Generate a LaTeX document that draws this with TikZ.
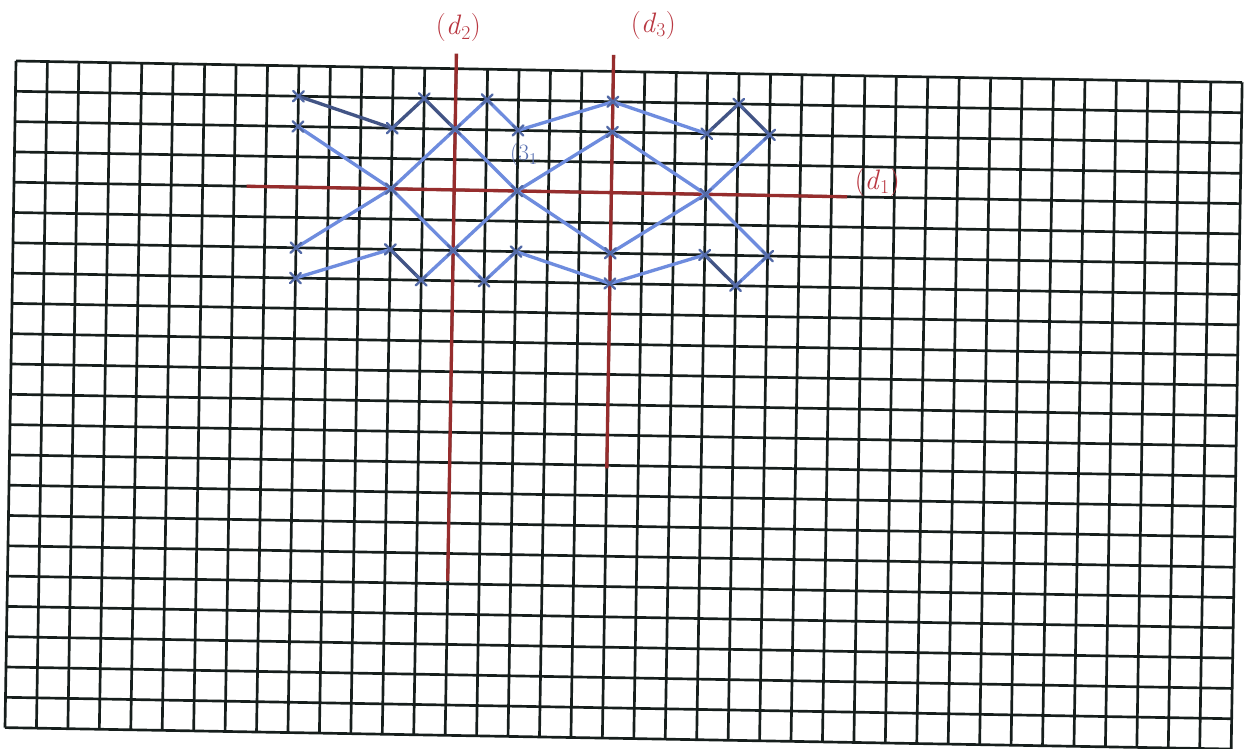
\documentclass[tikz,border=0pt]{standalone}
\usepackage{fontspec}
\definecolor{gridblack}{RGB}{22,30,28}
\definecolor{axisred}{RGB}{150,45,45}
\definecolor{labelred}{RGB}{185,55,65}
\definecolor{penblue}{RGB}{110,140,222}
\begin{document}
\begin{tikzpicture}[x={(9.432mm,-0.165mm)}, y={(-0.15mm,-9.09mm)},
      gridline/.style={line width=0.8mm, draw=gridblack},
      axisline/.style={line width=1mm, draw=axisred},
      axislabel/.style={text=labelred, font=\fontsize{24}{26}\selectfont, inner sep=0pt},
      chain/.style={line width=1mm, draw=penblue, line cap=round},
      chaindark/.style={chain, draw=penblue!60!black},
      ptcross/.style={line width=0.7mm, draw=penblue!75!black, line cap=round}]
    \useasboundingbox (-4.8mm,18.3mm) rectangle (369.6mm,-206.4mm);
    \fill[white] (-4.8mm,18.3mm) rectangle (369.6mm,-206.4mm);

    % squared paper
    \foreach \c in {0,...,39}
      \draw[gridline] (\c,0) -- (\c,22);
    \foreach \r in {0,...,22}
      \draw[gridline] (0,\r) -- (39,\r);

    % the three lines
    \coordinate (d1a) at (7.4,4);   \coordinate (d1b) at (26.5,4);
    \coordinate (d2a) at (14,-0.5); \coordinate (d2b) at (14,16.9);
    \coordinate (d3a) at (19,-0.55);\coordinate (d3b) at (19,13.1);
    \draw[axisline] (d1a) -- (d1b);
    \draw[axisline] (d2a) -- (d2b);
    \draw[axisline] (d3a) -- (d3b);
    \node[axislabel] (ld1) at (27.45,3.5)  {(\textit{d}\textsubscript{1})};
    \node[axislabel] (ld2) at (14.05,-1.35) {(\textit{d}\textsubscript{2})};
    \node[axislabel] (ld3) at (20.25,-1.55) {(\textit{d}\textsubscript{3})};

    % points of the figure
    \foreach \c/\r in {9/1, 9/2, 12/2, 13/1, 14/2, 15/1, 16/2, 12/4, 16/4,
                       9/6, 9/7, 12/6, 13/7, 14/6, 15/7, 16/6,
                       19/1, 19/2, 22/2, 23/1, 24/2, 22/4,
                       19/6, 19/7, 22/6, 23/7, 24/6}
      \coordinate (p\c-\r) at (\c,\r);

    \foreach \a/\b in {p9-2/p12-4, p12-4/p14-2, p14-2/p15-1, p15-1/p16-2,
                       p14-2/p16-4, p12-4/p9-6, p12-4/p14-6, p9-7/p12-6,
                       p13-7/p14-6, p14-6/p16-4, p14-6/p15-7, p15-7/p16-6,
                       p16-2/p19-1, p19-1/p22-2, p16-4/p19-2, p19-2/p22-4,
                       p16-4/p19-6, p19-6/p22-4, p22-4/p24-6, p16-6/p19-7,
                       p19-7/p22-6, p24-2/p22-4, p23-7/p24-6}
      \draw[chain] (\a) -- (\b);
    \foreach \a/\b in {p9-1/p12-2, p12-2/p13-1, p13-1/p14-2, p12-6/p13-7,
                       p22-2/p23-1, p23-1/p24-2, p22-6/p23-7}
      \draw[chaindark] (\a) -- (\b);

    \foreach \c/\r in {9/1, 9/2, 12/2, 13/1, 14/2, 15/1, 16/2, 12/4, 16/4,
                       9/6, 9/7, 12/6, 13/7, 14/6, 15/7, 16/6,
                       19/1, 19/2, 22/2, 23/1, 24/2, 22/4,
                       19/6, 19/7, 22/6, 23/7, 24/6}
      \draw[ptcross] (p\c-\r) ++(-.17,-.17) -- ++(.34,.34)
                     (p\c-\r) ++(-.17,.17) -- ++(.34,-.34);

    \node[text=penblue!80!black, font=\fontsize{20}{22}\selectfont, inner sep=0pt]
      (lc) at (16.2,2.8) {(3\textsubscript{1}};
  \end{tikzpicture}
\end{document}
